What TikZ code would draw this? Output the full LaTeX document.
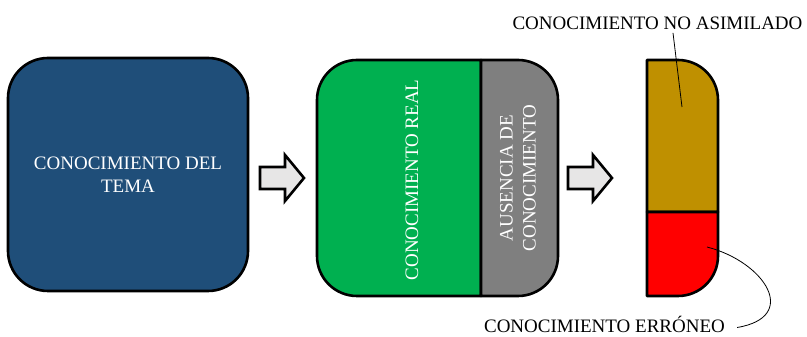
\documentclass[tikz,border=0pt]{standalone}
\usepackage{fontspec}
\setmainfont{Liberation Serif}
\usetikzlibrary{positioning}

\definecolor{temablue}{HTML}{1F4E79}
\definecolor{realgreen}{HTML}{00B050}
\definecolor{ausgray}{HTML}{7F7F7F}
\definecolor{nogold}{HTML}{BF9000}
\definecolor{errred}{HTML}{FF0000}
\definecolor{arrowgray}{HTML}{E7E6E6}

\begin{document}
\begin{tikzpicture}[
          x=1pt, y=1pt,
          font=\fontsize{19}{23}\selectfont,
          box/.style={draw, line width=2.6pt, rounded corners=40pt},
          part/.style={draw, line width=2.6pt, line join=round},
          inside/.style={text=white, align=center, inner sep=0pt},
          blockarrow/.style={draw, fill=arrowgray, line width=2.6pt, line join=miter},
          leader/.style={draw, line width=0.8pt}
        ]
        \useasboundingbox (0,0) rectangle (807,337);

        % -------- Knowledge of the topic --------
        \node[box, fill=temablue, inside, minimum width=240pt, minimum height=233pt] (tema) at (128,162.5)
          {\baselineskip=25pt CONOCIMIENTO DEL\\TEMA};

        % -------- Real knowledge / absence --------
        \path[part, fill=realgreen] (481,41) -- (357,41) arc[start angle=270, end angle=180, radius=40]
          -- (317,237) arc[start angle=180, end angle=90, radius=40] -- (481,277) -- cycle;
        \path[part, fill=ausgray] (481,41) -- (481,277) -- (518,277) arc[start angle=90, end angle=0, radius=40]
          -- (558,81) arc[start angle=0, end angle=-90, radius=40] -- cycle;
        \node[inside, rotate=90] (real) at (412,157) {CONOCIMIENTO REAL};
        \node[inside, rotate=90] (ausencia) at (518,159) {AUSENCIA DE\\CONOCIMIENTO};

        % -------- Result --------
        \path[part, fill=nogold] (647,125) -- (647,277) -- (678,277) arc[start angle=90, end angle=0, radius=40]
          -- (718,125) -- cycle;
        \path[part, fill=errred] (647,125) -- (718,125) -- (718,81) arc[start angle=0, end angle=-90, radius=40]
          -- (647,41) -- cycle;
        \coordinate (pgold) at (682,230);
        \coordinate (pred) at (707,90);

        % -------- Arrows --------
        \path[blockarrow] (260,148) -- (285,148) -- (285,136) -- (304,159) -- (285,182) -- (285,170) -- (260,170) -- cycle;
        \path[blockarrow] (568,148) -- (593,148) -- (593,136) -- (612,159) -- (593,182) -- (593,170) -- (568,170) -- cycle;

        % -------- Labels --------
        \node (noasim) at (657.5,314) {CONOCIMIENTO NO ASIMILADO};
        \node[anchor=base, inner sep=0pt] (erroneo) at (604.5,4.5) {CONOCIMIENTO ERRÓNEO};
        \draw[leader] ([xshift=15.5pt]noasim.south) -- (pgold);
        \draw[leader] (pred) .. controls (765,75) and (800,20) .. ([shift={(12pt,5pt)}]erroneo.base east);

      \end{tikzpicture}
\end{document}
